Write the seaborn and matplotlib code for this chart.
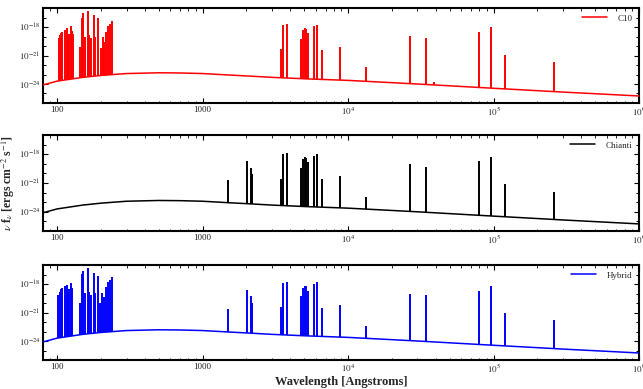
import numpy as np
import pandas as pd
import matplotlib
matplotlib.use("Agg")
import matplotlib.pyplot as plt
import seaborn as sns
from matplotlib.ticker import FixedLocator, LogLocator, NullFormatter

# ---------------- data ----------------
model_names = ["C10", "Chianti", "Hybrid"]
model_colors = ["#ff0000", "#000000", "#0000ff"]

# continuum (wavelength in Angstrom, log10 of nu f_nu)
cont_wave = [80, 100, 150, 200, 300, 500, 700, 1000, 1500, 2000, 3000, 5000,
             10000, 30000, 100000, 300000, 1000000]
cont_logf = [-24.1, -23.7, -23.3, -23.1, -22.9, -22.82, -22.84, -22.9, -23.05,
             -23.15, -23.3, -23.45, -23.62, -24.0, -24.45, -24.85, -25.26]

# EUV line forest (C10 and Hybrid only)
euv_wave_c10 = [103.2, 104.9, 106.5, 108.8, 114.0, 116.6, 119.5, 121.5, 124.2,
                126.8, 129.4, 143.0, 147.8, 151.6, 156.5, 162.5, 166.7, 172.0,
                178.5, 183.2, 192.3, 199.6, 206.0, 211.4, 217.3, 225.3, 231.4,
                237.6]
euv_logf_c10 = [-19.18, -18.84, -18.66, -18.49, -18.31, -18.14, -19.0, -18.77,
                -17.86, -18.42, -18.77, -20.06, -17.03, -16.57, -19.0, -16.32,
                -18.84, -19.18, -16.74, -19.0, -17.03, -20.23, -19.0, -19.54,
                -18.49, -17.86, -17.69, -17.34]

euv_wave_hyb = [102.0, 104.3, 106.5, 108.8, 113.5, 116.6, 119.5, 121.5, 124.2,
                126.8, 143.8, 147.8, 151.6, 156.5, 162.5, 166.7, 172.0, 178.5,
                183.2, 192.3, 198.0, 204.5, 210.0, 217.3, 225.3, 231.4, 237.6]
euv_logf_hyb = [-19.15, -18.8, -18.56, -18.39, -18.2, -18.1, -18.8, -18.56,
                -17.87, -18.45, -20.0, -16.95, -16.6, -18.98, -16.36, -18.8,
                -19.15, -16.82, -18.98, -17.16, -20.0, -18.98, -19.33, -18.28,
                -17.76, -17.58, -17.3]

# UV / optical / IR lines (nan = line absent in that model)
line_wave = [1504, 2030, 2154, 2200, 3480, 3590, 3790, 4730, 4930, 5070, 5170,
             5280, 5810, 6150, 6660, 8800, 13200, 26700, 34400, 39000, 79000,
             96300, 119000, 259000]
line_logf_c10 = [np.nan, np.nan, np.nan, np.nan, -20.3, -17.8, -17.7, -19.25,
                 -18.35, -18.12, -18.22, -18.6, -17.93, -17.8, -20.4, -20.1,
                 -22.25, -18.9, -19.2, -23.75, -18.55, -18.03, -20.97, -21.7]
line_logf_chianti = [-20.7, -18.7, -19.4, -20.1, -20.6, -18.0, -17.9, -19.4,
                     -18.5, -18.3, -18.4, -18.8, -18.15, -18.0, -20.6, -20.3,
                     -22.5, -19.0, -19.3, np.nan, -18.7, -18.3, -21.1, -21.9]
line_logf_hyb = [-20.65, -18.6, -19.25, -20.0, -20.4, -17.9, -17.8, -19.3,
                 -18.4, -18.2, -18.25, -18.7, -18.0, -17.8, -20.5, -20.2,
                 -22.4, -19.0, -19.2, np.nan, -18.7, -18.2, -21.0, -21.8]

x_major = [100, 1000, 1e4, 1e5, 1e6]
x_major_labels = ["100", "1000", r"$10^4$", r"$10^5$", r"$10^6$"]
y_major = [1e-18, 1e-21, 1e-24]
y_major_labels = [r"$10^{-18}$", r"$10^{-21}$", r"$10^{-24}$"]
y_all_decades = [10.0 ** k for k in range(-25, -16)]

# ---------------- style ----------------
sns.set_theme(style="ticks")
plt.rcParams["font.family"] = ["Liberation Serif", "DejaVu Serif"]
plt.rcParams["mathtext.fontset"] = "stix"
plt.rcParams["xtick.direction"] = "in"
plt.rcParams["ytick.direction"] = "in"
plt.rcParams["xtick.top"] = True
plt.rcParams["ytick.right"] = True

fig = plt.figure(figsize=(6.43, 3.89), dpi=100)
W, H = 643.0, 389.0
left, right = 43 / W, 639 / W
panels_px = [(8, 103), (135, 231), (265, 360)]
axes = []
for top, bot in panels_px:
    axes.append(fig.add_axes([left, 1 - bot / H, right - left, (bot - top) / H]))

cont_df = pd.DataFrame({"wave": cont_wave, "flux": 10.0 ** np.array(cont_logf)})

euv_sets = [(euv_wave_c10, euv_logf_c10), (None, None), (euv_wave_hyb, euv_logf_hyb)]
line_sets = [line_logf_c10, line_logf_chianti, line_logf_hyb]

for ax, name, col, (ew, ef), lf in zip(axes, model_names, model_colors, euv_sets, line_sets):
    ax.set_xscale("log")
    ax.set_yscale("log")
    sns.lineplot(data=cont_df, x="wave", y="flux", ax=ax, color=col, lw=1.1,
                 label=name, estimator=None, zorder=3)
    waves = list(line_wave)
    logs = list(lf)
    if ew is not None:
        waves = list(ew) + waves
        logs = list(ef) + logs
    waves = np.array(waves, dtype=float)
    logs = np.array(logs, dtype=float)
    ok = ~np.isnan(logs)
    waves, logs = waves[ok], logs[ok]
    base = np.interp(np.log10(waves), np.log10(cont_wave), cont_logf)
    ax.vlines(waves, 10.0 ** base, 10.0 ** logs, color=col, lw=1.4, zorder=2)

    ax.set_xlim(80, 1e6)
    ax.set_ylim(1e-26, 1e-16)
    ax.xaxis.set_major_locator(FixedLocator(x_major))
    ax.set_xticklabels(x_major_labels)
    ax.xaxis.set_minor_locator(LogLocator(base=10, subs=np.arange(2, 10)))
    ax.xaxis.set_minor_formatter(NullFormatter())
    ax.yaxis.set_major_locator(FixedLocator(y_major))
    ax.set_yticklabels(y_major_labels)
    ax.yaxis.set_minor_locator(FixedLocator(y_all_decades))
    ax.yaxis.set_minor_formatter(NullFormatter())
    ax.tick_params(axis="both", which="major", labelsize=6.5, length=3.5,
                   width=0.8, color="black", pad=2)
    ax.tick_params(axis="x", which="minor", length=1.8, width=0.6, color="black")
    ax.tick_params(axis="y", which="minor", length=2.5, width=0.7, color="black")
    for sp in ax.spines.values():
        sp.set_linewidth(1.5)
        sp.set_color("black")
    ax.set_xlabel("")
    ax.set_ylabel("")
    ax.legend(loc="upper right", frameon=False, fontsize=6.5,
              handlelength=2.8, borderaxespad=0.3, handletextpad=1.2)

axes[2].set_xlabel("Wavelength [Angstroms]", fontsize=9, fontweight="bold",
                   labelpad=1)
axes[1].set_ylabel(r"$\nu$ f$_\nu$ [ergs cm$^{-2}$ s$^{-1}$]", fontsize=8.5,
                   fontweight="bold")
axes[1].yaxis.set_label_coords((17 - 43) / 596.0, 0.5)

fig.savefig("out.png", dpi=100)
